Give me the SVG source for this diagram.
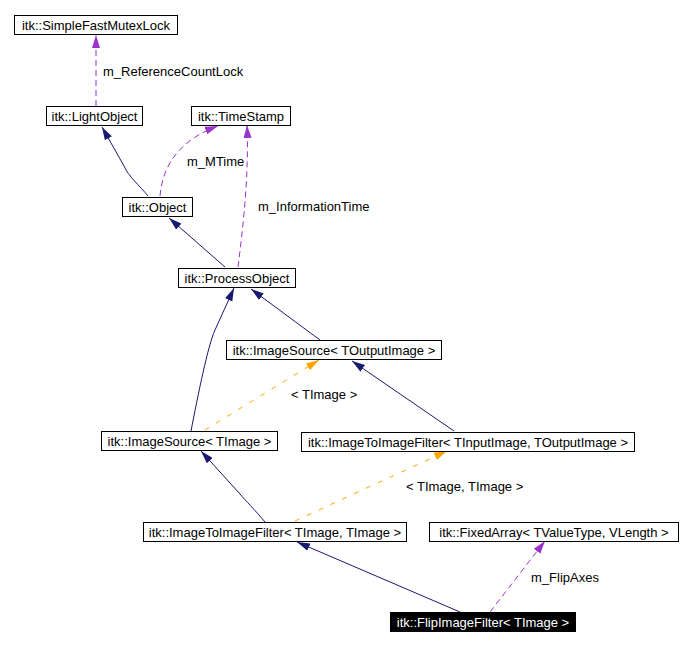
<svg xmlns="http://www.w3.org/2000/svg" width="690" height="646" viewBox="0 0 690 646">
<style>
.box{fill:#fff;stroke:#000;stroke-width:1}
.t{font-family:"Liberation Sans",Arial,sans-serif;font-size:13px;fill:#000}
.tc{text-anchor:middle}
.w{fill:#fff}
.e{fill:none;stroke-width:1}
.inh{stroke:#191970;marker-end:url(#an)}
.use{stroke:#9a32cd;stroke-dasharray:6,4;marker-end:url(#ap)}
.tpl{stroke:#ffa500;stroke-dasharray:5,8;marker-end:url(#ao)}
</style>
<defs>
<marker id="an" markerUnits="userSpaceOnUse" markerWidth="13" markerHeight="10" viewBox="0 0 13 10" refX="13" refY="5" orient="auto"><path d="M0,1 L13,5 L0,9 z" fill="#191970"/></marker>
<marker id="ap" markerUnits="userSpaceOnUse" markerWidth="13" markerHeight="10" viewBox="0 0 13 10" refX="13" refY="5" orient="auto"><path d="M0,1 L13,5 L0,9 z" fill="#9a32cd"/></marker>
<marker id="ao" markerUnits="userSpaceOnUse" markerWidth="13" markerHeight="10" viewBox="0 0 13 10" refX="13" refY="5" orient="auto"><path d="M0,1 L13,5 L0,9 z" fill="#ffa500"/></marker>
</defs>
<rect width="690" height="646" fill="#fff"/>
<g id="edges">
<path class="e use" d="M96,106 L96,35"/>
<path class="e inh" d="M148,196 C140,186 128,176 124,166 L102,127"/>
<path class="e use" d="M160,196 C163,160 185,138 218,126"/>
<path class="e use" d="M238,267 C244,220 249,170 247,125"/>
<path class="e inh" d="M225,267 L169,218"/>
<path class="e inh" d="M191,431 C198,395 208,345 215,330 L234,288"/>
<path class="e inh" d="M320,340 L251,289"/>
<path class="e tpl" d="M205,430 L319,360"/>
<path class="e inh" d="M454,431 L352,361"/>
<path class="e inh" d="M265,522 C255,510 245,500 240,494 L201,451"/>
<path class="e tpl" d="M295,521 L447,451"/>
<path class="e inh" d="M460,612 L297,542"/>
<path class="e use" d="M490,612 L545,541"/>
<text class="t" x="103" y="76">m_ReferenceCountLock</text>
<text class="t" x="187" y="166">m_MTime</text>
<text class="t" x="258" y="211">m_InformationTime</text>
<text class="t" x="291" y="399">&lt; TImage &gt;</text>
<text class="t" x="406" y="491">&lt; TImage, TImage &gt;</text>
<text class="t" x="531" y="582">m_FlipAxes</text>
</g>
<g id="n_mutex"><rect class="box" x="14.5" y="15.5" width="163" height="19"/><text class="t tc" x="96" y="30">itk::SimpleFastMutexLock</text></g>
<g id="n_lightobject"><rect class="box" x="46.5" y="106.5" width="96" height="19"/><text class="t tc" x="94.5" y="121">itk::LightObject</text></g>
<g id="n_timestamp"><rect class="box" x="191.5" y="106.5" width="99" height="19"/><text class="t tc" x="241" y="121">itk::TimeStamp</text></g>
<g id="n_object"><rect class="box" x="122.5" y="197.5" width="70" height="19"/><text class="t tc" x="157.5" y="212">itk::Object</text></g>
<g id="n_processobject"><rect class="box" x="178.5" y="268.5" width="117" height="19"/><text class="t tc" x="237" y="283">itk::ProcessObject</text></g>
<g id="n_imagesource_out"><rect class="box" x="226.5" y="340.5" width="215" height="19"/><text class="t tc" x="334" y="355">itk::ImageSource&lt; TOutputImage &gt;</text></g>
<g id="n_imagesource_img"><rect class="box" x="101.5" y="431.5" width="176" height="19"/><text class="t tc" x="189.5" y="446">itk::ImageSource&lt; TImage &gt;</text></g>
<g id="n_i2i_inout"><rect class="box" x="301.5" y="432.5" width="333" height="19"/><text class="t tc" x="468" y="447">itk::ImageToImageFilter&lt; TInputImage, TOutputImage &gt;</text></g>
<g id="n_i2i_img"><rect class="box" x="143.5" y="522.5" width="263" height="19"/><text class="t tc" x="275" y="537">itk::ImageToImageFilter&lt; TImage, TImage &gt;</text></g>
<g id="n_fixedarray"><rect class="box" x="429.5" y="522.5" width="249" height="19"/><text class="t tc" x="554" y="537">itk::FixedArray&lt; TValueType, VLength &gt;</text></g>
<g id="n_flip"><rect x="390" y="612" width="186" height="20" fill="#000"/><text class="t tc w" x="483" y="627">itk::FlipImageFilter&lt; TImage &gt;</text></g>
</svg>
